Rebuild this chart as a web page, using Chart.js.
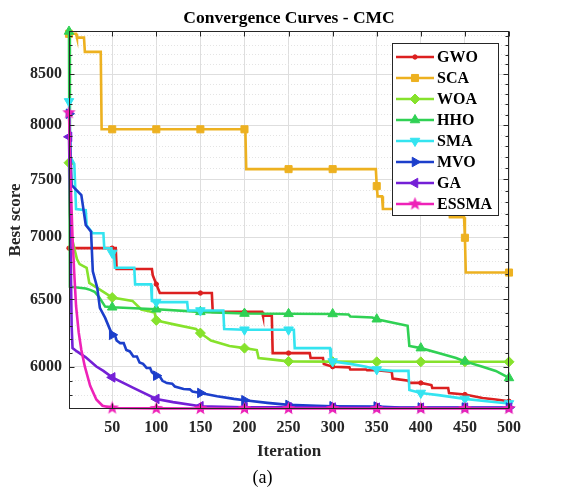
<!DOCTYPE html>
<html><head><meta charset="utf-8">
<script src="https://cdn.jsdelivr.net/npm/chart.js@4.4.1/dist/chart.umd.min.js"></script>
<style>html,body{margin:0;padding:0;background:#fff}#wrap{width:569px;height:492px}</style>
</head><body><div id="wrap"><canvas id="c" width="569" height="492"></canvas></div>
<script>
// ---- data ----
const seriesNames = ['GWO','SCA','WOA','HHO','SMA','MVO','GA','ESSMA'];
const gwoIter = [1,50,54,55,95,96,100,104,150,163,164,200,220,221,231,232,250,274,275,289,290,300,319,320,338,339,350,367,368,386,387,400,412,413,431,432,450,470,485,500];
const gwoVal  = [6910,6910,6910,6740,6740,6690,6620,6550,6550,6550,6405,6405,6405,6375,6375,6098,6098,6098,6062,6062,6020,6000,5995,5980,5980,5975,5975,5965,5915,5900,5885,5885,5870,5850,5850,5815,5804,5780,5770,5758];
const scaIter = [1,9,10,18,19,37,38,50,100,150,200,201,202,250,300,349,350,351,356,357,432,433,449,450,451,500];
const scaVal  = [8920,8920,8880,8880,8730,8730,7961,7961,7961,7961,7961,7961,7592,7592,7592,7592,7440,7350,7350,7240,7240,7170,7170,6996,6712,6712];
const woaIter = [1,2,4,10,13,21,24,40,50,73,83,98,100,120,145,150,162,183,200,214,216,240,250,300,350,400,450,500];
const woaVal  = [7650,7200,7000,6820,6780,6750,6630,6560,6515,6489,6423,6400,6340,6310,6275,6245,6190,6150,6134,6120,6062,6045,6038,6036,6035,6035,6035,6035];
const hhoIter = [1,2,20,25,30,35,42,50,100,150,200,250,300,318,320,345,350,370,385,387,400,420,440,450,470,485,500];
const hhoVal  = [8945,6600,6585,6575,6560,6520,6445,6440,6425,6405,6392,6390,6389,6385,6370,6362,6349,6320,6300,6150,6134,6098,6062,6038,6000,5970,5920];
const smaIter = [1,3,7,9,20,21,28,40,41,49,50,52,53,75,76,94,95,100,135,136,150,176,177,200,250,256,257,297,298,300,320,338,350,368,386,387,400,420,450,480,500];
const smaVal  = [8230,7700,7640,7240,7230,7100,7034,7034,6909,6909,6870,6870,6750,6750,6618,6618,6489,6480,6480,6415,6415,6415,6275,6270,6270,6270,6134,6134,6040,6037,6020,6000,5980,5970,5970,5836,5815,5800,5774,5755,5743];
const mvoIter = [1,4,15,20,26,28,33,36,42,50,53,55,59,63,66,70,74,78,81,85,89,93,95,100,104,107,112,118,121,131,138,141,150,169,188,200,226,250,282,300,350,377,400,450,500];
const mvoVal  = [8110,7449,7361,7103,7047,6722,6593,6435,6359,6232,6232,6190,6171,6171,6120,6110,6073,6073,6030,6020,5991,5991,5960,5936,5930,5900,5884,5880,5860,5843,5840,5825,5815,5792,5774,5765,5747,5733,5726,5724,5722,5715,5715,5715,5715];
const gaIter  = [1,2,3,4,5,10,20,32,40,50,74,100,119,150,200,250,300,350,400,450,500];
const gaVal   = [7890,7400,6800,6300,6134,6110,6067,6001,5970,5924,5850,5774,5752,5724,5717,5716,5715,5714,5714,5714,5714];
const essIter = [1,3,5,7,9,12,15,19,25,32,39,50,100,150,200,250,300,350,400,450,500];
const essVal  = [8120,7450,7000,6700,6450,6250,6120,6000,5865,5770,5727,5712,5709,5708,5708,5708,5708,5708,5708,5708,5708];
const xTicks = [50,100,150,200,250,300,350,400,450,500];
const yMajorTicks = [6000,6500,7000,7500,8000,8500];
const yMinorTicks = [5800,5900,6100,6200,6300,6400,6600,6700,6800,6900,7100,7200,7300,7400,7600,7700,7800,7900,8100,8200,8300,8400,8600,8700,8800,8900];
const markerIters = [1,50,100,150,200,250,300,350,400,450,500];

// ---- styles ----
const FONT = '"Liberation Serif", "Times New Roman", serif';
const AX = '#262626';
function makeStar(color, size){
  const c=document.createElement('canvas'); c.width=size; c.height=size;
  const g=c.getContext('2d'); const cx=size/2, cy=size/2, R=size/2-0.5, r=R*0.42;
  g.beginPath();
  for(let k=0;k<10;k++){const a=-Math.PI/2+k*Math.PI/5; const rr=k%2?r:R; g.lineTo(cx+rr*Math.cos(a), cy+rr*Math.sin(a));}
  g.closePath(); g.fillStyle=color; g.fill(); return c;
}
const styles = [
  {color:'#DC2020', point:'circle', rot:0, r:2.2},
  {color:'#EDB120', point:'rect', rot:0, r:5},
  {color:'#86E22C', point:'rectRot', rot:0, r:5},
  {color:'#30D154', point:'triangle', rot:0, r:5.5},
  {color:'#34E4F0', point:'triangle', rot:180, r:5.5},
  {color:'#1C3FCB', point:'triangle', rot:90, r:5.5},
  {color:'#7420D6', point:'triangle', rot:270, r:5.5},
  {color:'#EE22B8', point:null, rot:0, r:5}
];
styles[7].point = makeStar(styles[7].color, 15);

const iters = [gwoIter,scaIter,woaIter,hhoIter,smaIter,mvoIter,gaIter,essIter];
const vals  = [gwoVal,scaVal,woaVal,hhoVal,smaVal,mvoVal,gaVal,essVal];
const markerSet = new Set(markerIters);

const datasets = seriesNames.map((name,i)=>({
  label:name,
  data: iters[i].map((x,k)=>({x:x, y:vals[i][k]})),
  borderColor: styles[i].color,
  backgroundColor: styles[i].color,
  borderWidth: 2.6,
  tension: 0,
  pointStyle: styles[i].point,
  pointRotation: styles[i].rot,
  pointRadius: ctx => (ctx.raw && markerSet.has(ctx.raw.x)) ? styles[i].r : 0,
  pointBackgroundColor: styles[i].color,
  pointBorderColor: styles[i].color,
  pointBorderWidth: 1,
  clip: false,
  order: 7 - i
}));

const YMIN = 5705, YMAX = 8950;

const framePlugin = {
  id:'frame',
  afterDatasetsDraw(chart){
    const {ctx, chartArea:a, scales} = chart;
    ctx.save();
    ctx.strokeStyle = AX; ctx.lineWidth = 1;
    const L=Math.round(a.left)+0.5, R=Math.round(a.right)-0.5, T=Math.round(a.top)+0.5, B=Math.round(a.bottom)-0.5;
    ctx.beginPath();
    xTicks.forEach(v=>{const p=Math.round(scales.x.getPixelForValue(v))+0.5; ctx.moveTo(p,B); ctx.lineTo(p,B-5); ctx.moveTo(p,T); ctx.lineTo(p,T+5);});
    yMajorTicks.forEach(v=>{const p=Math.round(scales.y.getPixelForValue(v))+0.5; ctx.moveTo(L,p); ctx.lineTo(L+5,p); ctx.moveTo(R,p); ctx.lineTo(R-5,p);});
    yMinorTicks.forEach(v=>{const p=Math.round(scales.y.getPixelForValue(v))+0.5; ctx.moveTo(L,p); ctx.lineTo(L+3,p); ctx.moveTo(R,p); ctx.lineTo(R-3,p);});
    ctx.stroke();
    ctx.strokeRect(L, T, R-L, B-T);
    ctx.restore();
  },
  afterDraw(chart){
    const {ctx, chartArea:a} = chart;
    const boxW=106, boxH=172, rowH=21;
    const right=a.right-11, left=right-boxW, top=a.top+12;
    ctx.save();
    ctx.fillStyle='#fff'; ctx.fillRect(left,top,boxW,boxH);
    ctx.strokeStyle=AX; ctx.lineWidth=1; ctx.strokeRect(Math.round(left)+0.5, Math.round(top)+0.5, boxW, boxH);
    chart.data.datasets.forEach((ds,i)=>{
      const y = top + 14 + i*rowH;
      ctx.strokeStyle=ds.borderColor; ctx.lineWidth=2.6;
      ctx.beginPath(); ctx.moveTo(left+4,y); ctx.lineTo(left+42,y); ctx.stroke();
      ctx.fillStyle=ds.borderColor; ctx.strokeStyle=ds.borderColor; ctx.lineWidth=1;
      Chart.helpers.drawPoint(ctx, {pointStyle:styles[i].point, radius:styles[i].r, rotation:styles[i].rot, borderWidth:1}, left+23, y);
      ctx.fillStyle='#000'; ctx.font='bold 16px '+FONT; ctx.textBaseline='middle'; ctx.textAlign='left';
      ctx.fillText(ds.label, left+45, y+1);
    });
    ctx.restore();
  }
};

new Chart(document.getElementById('c'), {
  type:'line',
  data:{datasets},
  options:{
    responsive:false, animation:false, devicePixelRatio:1, events:[],
    layout:{padding:{left:0,right:44,top:0,bottom:0}},
    plugins:{
      legend:{display:false}, tooltip:{enabled:false},
      title:{display:true, text:'Convergence Curves - CMC', fullSize:false, color:'#000',
        font:{family:FONT, size:17.5, weight:'bold', lineHeight:1.2}, padding:{top:7.5, bottom:2.5}},
      subtitle:{display:true, position:'bottom', text:'(a)', color:'#000',
        font:{family:FONT, size:18, weight:'normal', lineHeight:1.2}, padding:{top:1, bottom:3.4}}
    },
    scales:{
      x:{type:'linear', min:1, max:500,
        afterBuildTicks: s => { s.ticks = xTicks.map(v=>({value:v})); },
        afterFit: s => { s.height = 57; },
        grid:{color:'#DEDEDE', drawTicks:false},
        border:{display:false},
        ticks:{color:AX, padding:9.4, autoSkip:false, maxRotation:0, font:{family:FONT, size:16, weight:'bold', lineHeight:1.2}},
        title:{display:true, text:'Iteration', color:AX, font:{family:FONT, size:17, weight:'bold', lineHeight:1.2}, padding:{top:0,bottom:3.8}}
      },
      y:{type:'logarithmic', position:'left', min:YMIN, max:YMAX,
        afterBuildTicks: s => { s.ticks = yMajorTicks.map(v=>({value:v})); },
        afterFit: s => { s.width = 69; },
        grid:{color:'#DEDEDE', drawTicks:false},
        border:{display:false},
        ticks:{color:AX, padding:7, autoSkip:false, callback: v => String(v), font:{family:FONT, size:16, weight:'bold', lineHeight:1.2}},
        title:{display:true, text:'Best score', color:AX, font:{family:FONT, size:17, weight:'bold', lineHeight:1.2}, padding:{top:5.8,bottom:0}}
      },
      yMinor:{type:'logarithmic', position:'right', min:YMIN, max:YMAX,
        afterBuildTicks: s => { s.ticks = yMinorTicks.map(v=>({value:v})); },
        afterFit: s => { s.width = 16; },
        grid:{color:'#E4E4E4', drawTicks:false},
        border:{display:false, dash:[1,2]},
        ticks:{display:false}
      }
    }
  },
  plugins:[framePlugin]
});
</script>
</body></html>
